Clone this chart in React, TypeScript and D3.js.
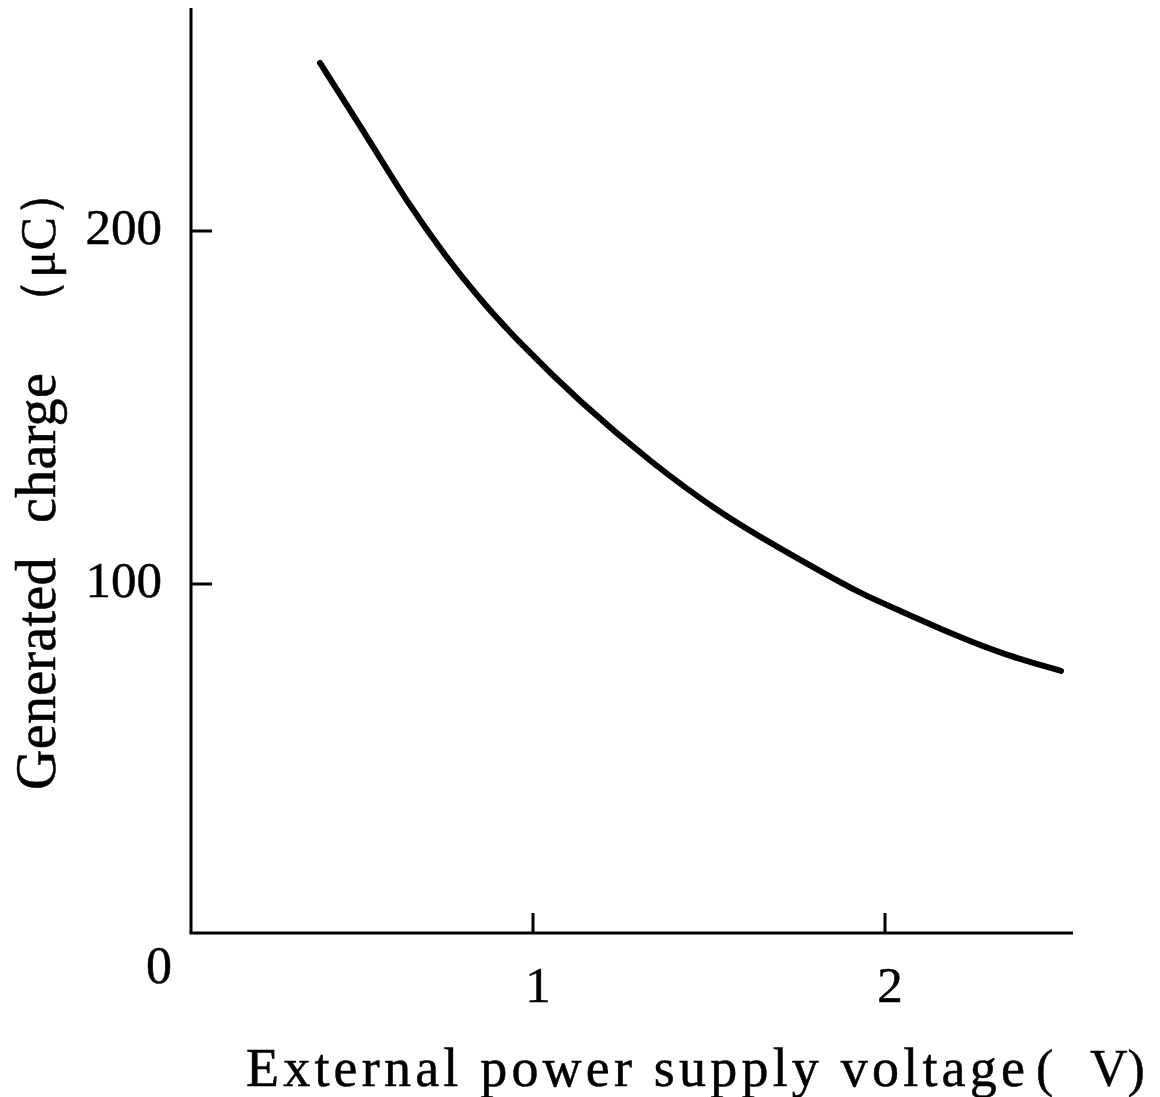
import React from 'react';
import * as d3 from 'd3';

// values
const voltage = [0.395, 0.54, 0.64, 0.75, 0.85, 0.96, 1.13, 1.34, 1.55, 1.76, 1.93, 2.04, 2.19, 2.34, 2.5];
const charge = [247.6, 224.9, 208.5, 193.0, 180.5, 168.5, 151.8, 134.0, 118.7, 106.8, 97.2, 92.6, 85.8, 79.9, 75.4];

const xTickValues = [1, 2];
const yTickValues = [100, 200];
const originLabel = '0';
const xTitle = 'External power supply voltage';
const xUnit = 'V';
const yTitle = 'Generated charge';
const yUnit = 'μC';

const W = 1160;
const H = 1097;
const serif = "'Liberation Serif', 'Times New Roman', serif";

const x = d3.scaleLinear().domain([0, 2.5]).range([181, 1061]);
const y = d3.scaleLinear().domain([0, 250]).range([937, 54.5]);

const axisLeft = 191;
const axisBottom = 933;
const axisTop = 8;
const axisRight = 1073;

const points = voltage.map((v, i) => ({ v, q: charge[i] }));

const line = d3
  .line<{ v: number; q: number }>()
  .x((d) => x(d.v))
  .y((d) => y(d.q))
  .curve(d3.curveBasis);

const App: React.FC = () => {
  return (
    <svg
      width={W}
      height={H}
      style={{ position: 'absolute', left: 0, top: 0, background: '#fff' }}
    >
      {/* axes */}
      <line x1={axisLeft} y1={axisTop} x2={axisLeft} y2={axisBottom} stroke="#000" strokeWidth={3} />
      <line x1={axisLeft - 1.5} y1={axisBottom} x2={axisRight} y2={axisBottom} stroke="#000" strokeWidth={3} />

      {yTickValues.map((t) => (
        <g key={'y' + t}>
          <line x1={axisLeft} x2={axisLeft + 21} y1={y(t)} y2={y(t)} stroke="#000" strokeWidth={3} />
          <text x={162} y={y(t) + 13} textAnchor="end" fontFamily={serif} fontSize={51} stroke="#000" strokeWidth={0.5}>
            {t}
          </text>
        </g>
      ))}

      {xTickValues.map((t) => (
        <g key={'x' + t}>
          <line x1={x(t)} x2={x(t)} y1={axisBottom} y2={axisBottom - 20} stroke="#000" strokeWidth={3} />
          <text x={x(t) + 5} y={1002} textAnchor="middle" fontFamily={serif} fontSize={51} stroke="#000" strokeWidth={0.5}>
            {t}
          </text>
        </g>
      ))}

      <text x={159} y={983} textAnchor="middle" fontFamily={serif} fontSize={52} stroke="#000" strokeWidth={0.5}>
        {originLabel}
      </text>

      {/* curve */}
      <path
        d={line(points) || ''}
        fill="none"
        stroke="#000"
        strokeWidth={6}
        strokeLinecap="round"
      />

      {/* y title */}
      <g transform="translate(55,790) rotate(-90)">
        <text
          x={0}
          y={0}
          fontFamily={serif}
          fontSize={56}
          wordSpacing={20}
          letterSpacing={0.3}
          stroke="#000"
          strokeWidth={0.5}
        >
          {yTitle}
          <tspan x={462} fontSize={50}>{'（' + yUnit + '）'}</tspan>
        </text>
      </g>

      {/* x title */}
      <text x={246} y={1086} fontFamily={serif} fontSize={54} stroke="#000" strokeWidth={0.5}>
        <tspan letterSpacing={4.2}>{xTitle}</tspan>
        <tspan x={1036} fontSize={52}>(</tspan>
        <tspan x={1090} fontSize={52}>{xUnit + ')'}</tspan>
      </text>
    </svg>
  );
};

export default App;
